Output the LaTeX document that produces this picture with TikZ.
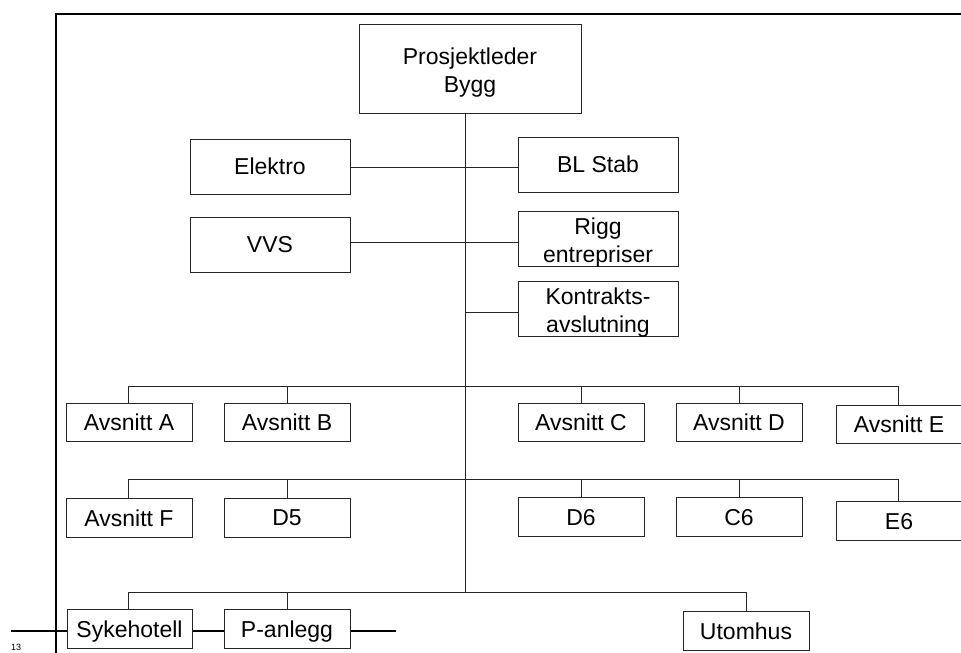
\documentclass[tikz,border=0pt]{standalone}
\usepackage{fontspec}
\setmainfont{Liberation Sans}
\newcommand{\twolines}[2]{\begin{tabular}[b]{@{}c@{}}#1\\#2\end{tabular}}
\begin{document}
\begin{tikzpicture}[x=1pt,y=-1pt,
  orgbox/.style={draw=black!85,line width=1pt,fill=white,inner sep=0pt,outer sep=0pt,
    text depth=0pt,font=\fontsize{23}{28}\selectfont},
  wide/.style={orgbox,minimum width=160pt,minimum height=55pt},
  unit/.style={orgbox,minimum width=126pt,minimum height=38.5pt},
  link/.style={draw=black!85,line width=0.9pt},
  frame/.style={draw=black,line width=1.8pt}]
\useasboundingbox (0,0) rectangle (961,653);

% page frame and footnote rule
\coordinate (fr1) at (56,14);
\coordinate (fr2) at (962,14);
\coordinate (fr3) at (56,654);
\draw[frame] (fr2) -- (fr1) -- (fr3);
\coordinate (fn1) at (11,631);
\coordinate (fn2) at (396,631);
\draw[frame] (fn1) -- (fn2);
\node[anchor=north west,inner sep=0pt,font=\fontsize{9}{11}\selectfont] (fnmark) at (11,644.5) {13};

% bus rows
\coordinate (b1l) at (128,386);  \coordinate (b1r) at (898,386);
\coordinate (b2l) at (128,479);  \coordinate (b2r) at (898,479);
\coordinate (b3l) at (128,592);  \coordinate (b3r) at (746,592);
\coordinate (tend) at (465,592);

% boxes
\node[orgbox,minimum width=222pt,minimum height=89pt] (pl) at (470,68.5) {\twolines{Prosjektleder}{Bygg}};
\node[wide] (elektro) at (270,166.5) {Elektro};
\node[wide] (blstab) at (598,164.5) {BL Stab};
\node[wide] (vvs) at (270,244.5) {VVS};
\node[wide] (rigg) at (598,238.5) {\twolines{Rigg}{entrepriser}};
\node[wide] (kontr) at (598,308.5) {\twolines{Kontrakts-}{avslutning}};

\node[unit] (avA) at (129,422.5) {Avsnitt A};
\node[unit] (avB) at (287,422.5) {Avsnitt B};
\node[unit] (avC) at (581,422.5) {Avsnitt C};
\node[unit] (avD) at (739,422.5) {Avsnitt D};
\node[unit] (avE) at (899,424.5) {Avsnitt E};

\node[unit] (avF) at (129,518) {Avsnitt F};
\node[unit] (d5) at (287,518) {D5};
\node[unit] (d6) at (581,517) {D6};
\node[unit] (c6) at (739,517) {C6};
\node[unit] (e6) at (899,521) {E6};

\node[unit,minimum width=125pt] (syk) at (129.5,629) {Sykehotell};
\node[unit] (panl) at (287,629) {P-anlegg};
\node[unit] (utom) at (746,631) {Utomhus};

% trunk and side links
\draw[link] ([xshift=-5pt]pl.south) -- (tend);
\draw[link] (elektro.east |- 0,167) -- (blstab.west |- 0,167);
\draw[link] (vvs.east |- 0,242) -- (rigg.west |- 0,242);
\draw[link] (tend |- 0,312) -- (kontr.west |- 0,312);

% buses and stubs
\draw[link] (b1l) -- (b1r);
\draw[link] (b2l) -- (b2r);
\draw[link] (b3l) -- (b3r);
\foreach \n/\x in {avA/128,avB/287,avC/581,avD/739,avE/898}
  \draw[link] (\x,386) -- (\n.north -| \x,0);
\foreach \n/\x in {avF/128,d5/287,d6/581,c6/739,e6/898}
  \draw[link] (\x,479) -- (\n.north -| \x,0);
\foreach \n/\x in {syk/128,panl/287,utom/746}
  \draw[link] (\x,592) -- (\n.north -| \x,0);
\end{tikzpicture}
\end{document}
